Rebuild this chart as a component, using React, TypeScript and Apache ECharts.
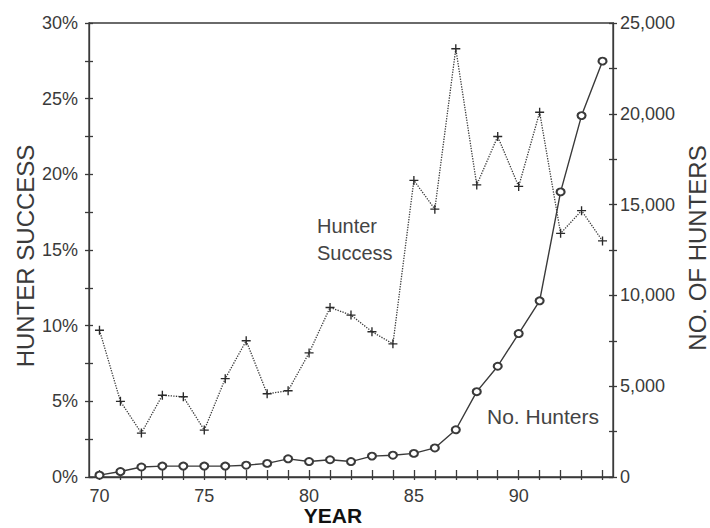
import React, { useEffect, useRef } from "react";
import * as echarts from "echarts";

const years = ["70","71","72","73","74","75","76","77","78","79","80","81","82","83","84","85","86","87","88","89","90","91","92","93","94"];
const successPct = [9.7, 5.0, 2.9, 5.4, 5.3, 3.1, 6.5, 9.0, 5.5, 5.7, 8.2, 11.2, 10.7, 9.6, 8.8, 19.6, 17.7, 28.3, 19.3, 22.5, 19.2, 24.1, 16.1, 17.6, 15.6];
const hunters = [100, 300, 550, 600, 600, 600, 600, 650, 750, 1000, 850, 950, 850, 1150, 1200, 1300, 1600, 2600, 4700, 6100, 7900, 9700, 15700, 19900, 22900];

const INK = "#3a3a3a";
const FONT = "Liberation Sans, Arial, sans-serif";

export default function App() {
  const ref = useRef<HTMLDivElement>(null);
  useEffect(() => {
    document.body.style.margin = "0";
    const chart = echarts.init(ref.current!, null, { renderer: "svg" });
    const axisLine = { show: true, lineStyle: { color: INK, width: 1.3 } };
    chart.setOption({
      animation: false,
      backgroundColor: "#ffffff",
      textStyle: { fontFamily: FONT },
      grid: { left: 89, right: 97, top: 23, bottom: 51, show: true, borderColor: INK, borderWidth: 1.3 },
      xAxis: [
        {
          type: "category", data: years, boundaryGap: true,
          axisLine,
          axisTick: { show: true, inside: false, length: 3, alignWithLabel: true, interval: 0, lineStyle: { color: INK, width: 1.3 } },
          axisLabel: { interval: (i: number) => i % 5 === 0, color: INK, fontSize: 18, fontFamily: FONT, margin: 10 },
          splitLine: { show: false },
        },
        {
          type: "category", data: years, boundaryGap: true, position: "bottom",
          axisLine: { show: false },
          axisTick: { show: true, inside: true, length: 7, alignWithLabel: true, interval: 0, lineStyle: { color: INK, width: 1.3 } },
          axisLabel: { show: false },
          splitLine: { show: false },
        },
      ],
      yAxis: [
        {
          type: "value", position: "left", min: 0, max: 30, interval: 2.5,
          axisLine,
          axisTick: { show: true, inside: false, length: 4, lineStyle: { color: INK, width: 1.3 } },
          axisLabel: { color: INK, fontSize: 18, fontFamily: FONT, margin: 11, formatter: (v: number) => (v % 5 === 0 ? v + "%" : "") },
          splitLine: { show: false },
        },
        {
          type: "value", position: "right", min: 0, max: 25000, interval: 2500,
          axisLine,
          axisTick: { show: true, inside: false, length: 4, lineStyle: { color: INK, width: 1.3 } },
          axisLabel: { color: INK, fontSize: 18, fontFamily: FONT, margin: 7, formatter: (v: number) => (v % 5000 === 0 ? v.toLocaleString("en-US") : "") },
          splitLine: { show: false },
        },
        {
          type: "value", position: "left", min: 0, max: 30, interval: 2.5,
          axisLine: { show: false },
          axisTick: { show: true, inside: true, length: 4, lineStyle: { color: INK, width: 1.3 } },
          axisLabel: { show: false },
          splitLine: { show: false },
        },
        {
          type: "value", position: "right", min: 0, max: 25000, interval: 2500,
          axisLine: { show: false },
          axisTick: { show: true, inside: true, length: 4, lineStyle: { color: INK, width: 1.3 } },
          axisLabel: { show: false },
          splitLine: { show: false },
        },
      ],
      series: [
        {
          name: "Hunter Success", type: "line", xAxisIndex: 0, yAxisIndex: 0, data: successPct,
          symbol: "path://M3.4,0H4.6V3.4H8V4.6H4.6V8H3.4V4.6H0V3.4H3.4Z", symbolSize: 9,
          lineStyle: { color: INK, width: 1.3, type: "dotted" },
          itemStyle: { color: "#2a2a2a" },
          z: 3,
        },
        {
          name: "No. Hunters", type: "line", xAxisIndex: 0, yAxisIndex: 1, data: hunters,
          symbol: "emptyCircle", symbolSize: [8, 7],
          lineStyle: { color: INK, width: 1.4 },
          itemStyle: { color: INK, borderColor: INK, borderWidth: 1.3 },
          z: 4,
        },
      ],
      graphic: [
        { type: "text", x: 25, y: 256, rotation: Math.PI / 2, style: { text: "HUNTER SUCCESS", fill: INK, font: `24px ${FONT}`, align: "center", verticalAlign: "middle" } },
        { type: "text", x: 697, y: 248, rotation: Math.PI / 2, style: { text: "NO. OF HUNTERS", fill: INK, font: `24px ${FONT}`, align: "center", verticalAlign: "middle" } },
        { type: "text", x: 333, y: 515, style: { text: "YEAR", fill: "#111", font: `bold 21px ${FONT}`, align: "center", verticalAlign: "middle" } },
        { type: "text", x: 317, y: 226, style: { text: "Hunter", fill: "#444", font: `20px ${FONT}`, align: "left", verticalAlign: "middle" } },
        { type: "text", x: 317, y: 253, style: { text: "Success", fill: "#444", font: `20px ${FONT}`, align: "left", verticalAlign: "middle" } },
        { type: "text", x: 487, y: 416, style: { text: "No. Hunters", fill: "#444", font: `21px ${FONT}`, align: "left", verticalAlign: "middle" } },
      ],
    });
    return () => chart.dispose();
  }, []);
  return <div ref={ref} style={{ width: 710, height: 528 }} />;
}
